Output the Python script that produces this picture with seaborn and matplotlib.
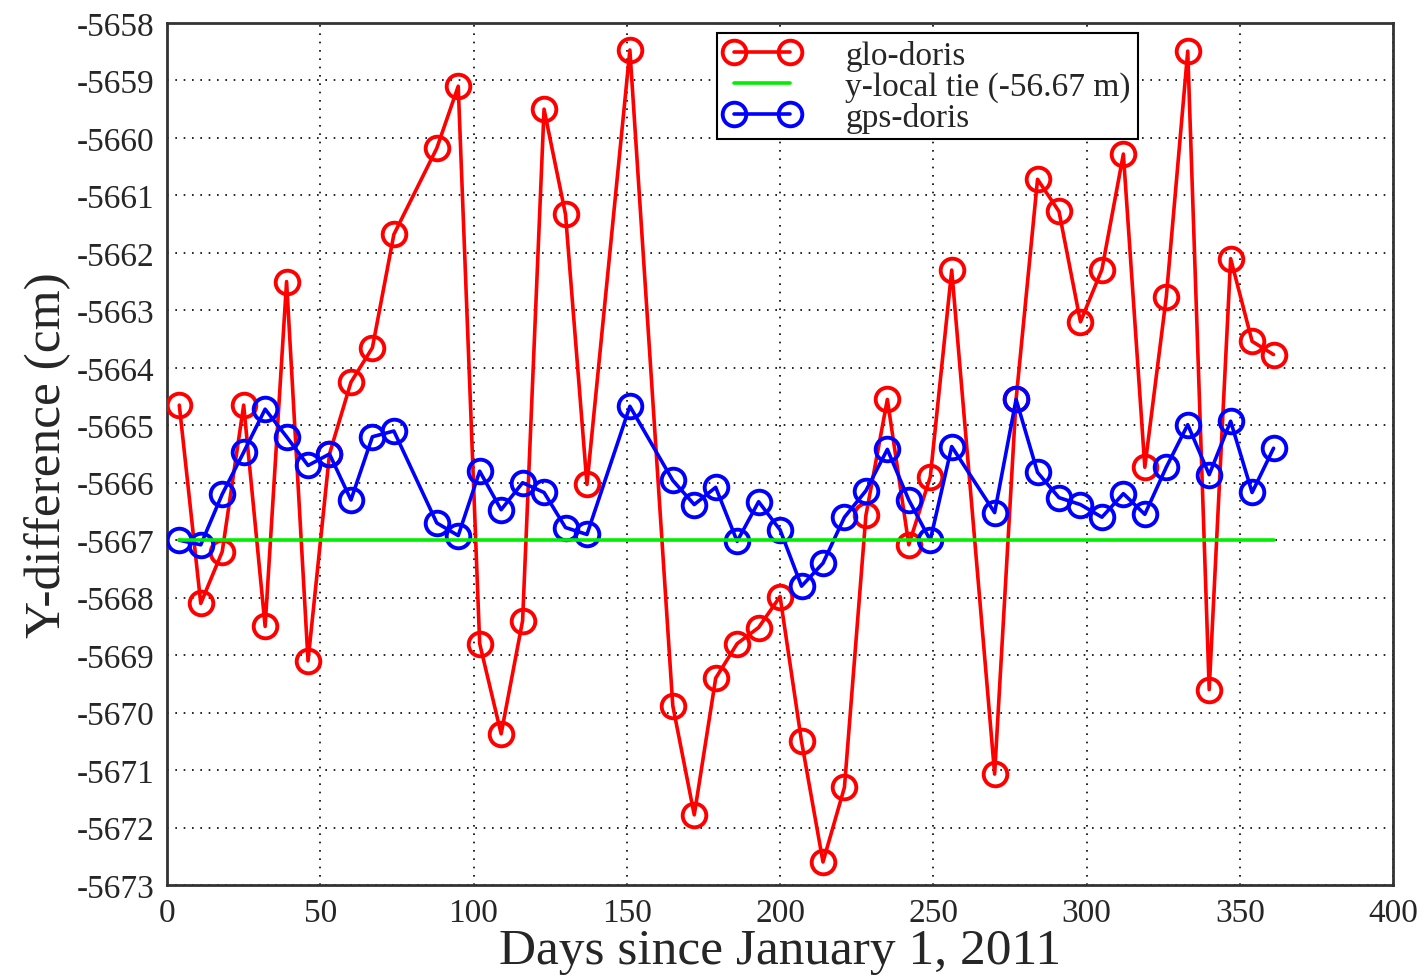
import matplotlib
matplotlib.use('Agg')
import matplotlib.pyplot as plt
import seaborn as sns

# days since Jan 1 2011 (weekly, a few weeks missing)
days = [4, 11, 18, 25, 32, 39, 46, 53, 60, 67, 74, 88, 95, 102, 109, 116,
        123, 130, 137, 151, 165, 172, 179, 186, 193, 200, 207, 214, 221, 228,
        235, 242, 249, 256, 270, 277, 284, 291, 298, 305, 312, 319, 326, 333,
        340, 347, 354, 361]

# glo-doris y difference (cm)
glo = [-5664.65, -5668.1, -5667.2, -5664.65, -5668.5, -5662.5, -5669.1, -5665.5,
       -5664.25, -5663.65, -5661.68, -5660.18, -5659.1, -5668.8, -5670.37, -5668.4,
       -5659.5, -5661.33, -5666.03, -5658.47, -5669.88, -5671.78, -5669.4, -5668.8,
       -5668.52, -5667.98, -5670.5, -5672.6, -5671.3, -5666.57, -5664.55, -5667.08,
       -5665.9, -5662.3, -5671.07, -5664.55, -5660.72, -5661.28, -5663.2, -5662.29,
       -5660.28, -5665.73, -5662.77, -5658.49, -5669.6, -5662.1, -5663.54, -5663.77]

# gps-doris y difference (cm)
gps = [-5667.0, -5667.08, -5666.2, -5665.47, -5664.72, -5665.2, -5665.7, -5665.5,
       -5666.3, -5665.2, -5665.1, -5666.7, -5666.92, -5665.8, -5666.47, -5666.0,
       -5666.17, -5666.78, -5666.9, -5664.67, -5665.96, -5666.38, -5666.08, -5667.02,
       -5666.33, -5666.82, -5667.8, -5667.4, -5666.6, -5666.14, -5665.42, -5666.3,
       -5667.0, -5665.37, -5666.52, -5664.55, -5665.82, -5666.26, -5666.38, -5666.6,
       -5666.19, -5666.55, -5665.73, -5664.99, -5665.86, -5664.93, -5666.17, -5665.4]

# local tie -56.67 m
tie = [-5667.0] * len(days)

sns.set_style('white')
plt.rcParams['font.family'] = ['Liberation Serif', 'DejaVu Serif']
plt.rcParams['axes.unicode_minus'] = False

fig = plt.figure(figsize=(14.24, 9.79), dpi=100)
ax = fig.add_axes([0.1173, 0.095, 0.8610, 0.8805])

mk = dict(marker='o', markersize=17, markerfacecolor='none', markeredgewidth=2.8,
          linewidth=2.6, sort=False)
sns.lineplot(x=days, y=glo, color='#ff0000', markeredgecolor='#ff0000',
             label='glo-doris', ax=ax, zorder=3, **mk)
sns.lineplot(x=days, y=tie, color='#00ee00', linewidth=2.6, label='y-local tie (-56.67 m)',
             ax=ax, zorder=5, sort=False)
sns.lineplot(x=days, y=gps, color='#0000ff', markeredgecolor='#0000ff',
             label='gps-doris', ax=ax, zorder=4, **mk)

ax.set_xlim(0, 400)
ax.set_ylim(-5673, -5658)
ax.set_xticks(range(0, 401, 50))
ax.set_yticks(range(-5673, -5657, 1))
ax.set_yticklabels([str(v) for v in range(-5673, -5657, 1)])
ax.tick_params(labelsize=24, length=0, pad=9)
ax.grid(True, color='black', linestyle=(0, (1, 4)), linewidth=1.2)
for s in ax.spines.values():
    s.set_color('#333333')
    s.set_linewidth(2)

ax.set_xlabel('Days since January 1, 2011', fontsize=37, labelpad=0)
ax.set_ylabel('Y-difference (cm)', fontsize=37, labelpad=4)

leg = ax.legend(loc='upper left', bbox_to_anchor=(0.4486, 0.988), fontsize=24,
                numpoints=2, handlelength=2.3, labelspacing=0.0, borderpad=0.2,
                handletextpad=1.35, fancybox=False, framealpha=1, borderaxespad=0)
leg.get_frame().set_edgecolor('black')
leg.get_frame().set_linewidth(1.5)
leg.set_zorder(10)

fig.savefig('out.png', dpi=100)
